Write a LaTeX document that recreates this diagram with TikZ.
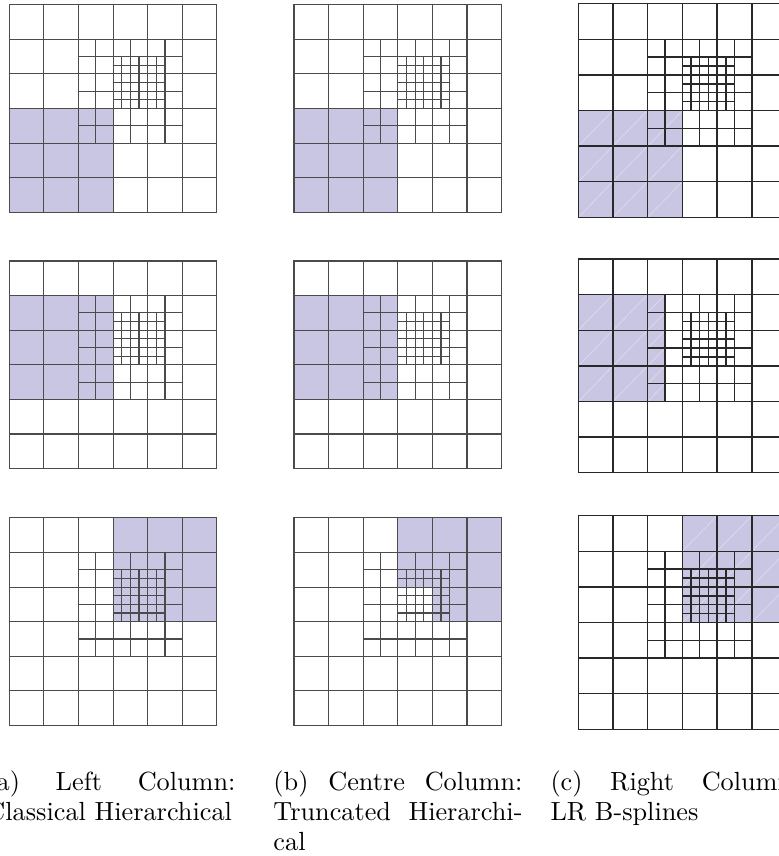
\documentclass[tikz,border=0pt]{standalone}
\usepackage{xcolor}
\usepackage{tikz}
\setlength{\parindent}{0pt}
\definecolor{meshgray}{RGB}{75,75,75}
\definecolor{meshdark}{RGB}{40,40,40}
\definecolor{suppfill}{RGB}{200,198,226}
\tikzset{
  meshline/.style={line width=0.45pt, color=meshgray, line cap=rect},
  lrline/.style={line width=0.6pt, color=meshdark, line cap=rect},
  support/.style={fill=suppfill, draw=none},
  seam/.style={white, opacity=0.35, line width=0.3pt},
  subcap/.style={inner sep=0pt, anchor=north west, text width=99.6pt,
    align=justify, font=\fontsize{10.5}{12}\selectfont}
}
% refined mesh on a 6x6 unit square
\newcommand{\hmesh}[1]{%
  \foreach \i in {0,...,6} {
    \draw[#1] (\i,0) -- (\i,6);
    \draw[#1] (0,\i) -- (6,\i);
  }
  \foreach \i in {2.5,3.5,4.5} {
    \draw[#1] (\i,2) -- (\i,5);
    \draw[#1] (2,\i) -- (5,\i);
  }
  \foreach \i in {3.25,3.5,3.75,4,4.25} {
    \draw[#1] (\i,3) -- (\i,4.5);
    \draw[#1] (3,\i) -- (4.5,\i);
  }
}

\begin{document}
\begin{tikzpicture}[x=0.4pt, y=0.4pt]
  \useasboundingbox (0,0) rectangle (779,856);
  \clip (0,0) rectangle (779,856);

  % Left column
  \begin{scope}[shift={(9.3,643.7)}, scale=34.6]
    \fill[support] (0,0) rectangle (3,3);
    \hmesh{meshline}
  \end{scope}
  \begin{scope}[shift={(9.3,387.4)}, scale=34.6]
    \fill[support] (0,2) rectangle (3,5);
    \hmesh{meshline}
  \end{scope}
  \begin{scope}[shift={(9.3,130.5)}, scale=34.6]
    \fill[support] (3,3) rectangle (6,6);
    \hmesh{meshline}
  \end{scope}

  % Centre column
  \begin{scope}[shift={(294,643.7)}, scale=34.6]
    \fill[support] (0,0) rectangle (3,3);
    \hmesh{meshline}
  \end{scope}
  \begin{scope}[shift={(294,387.4)}, scale=34.6]
    \fill[support] (0,2) rectangle (3,5);
    \hmesh{meshline}
  \end{scope}
  \begin{scope}[shift={(294,130.5)}, scale=34.6]
    \fill[support] (3,4) -- (4,4) -- (4,3) -- (6,3) -- (6,6) -- (3,6) -- cycle;
    \hmesh{meshline}
  \end{scope}

  % Right column
  \begin{scope}[shift={(578.3,638.7)}, xscale=34.7, yscale=35.6]
    \fill[support] (0,0) rectangle (3,3);
    \foreach \x in {0,1,2} \foreach \y in {0,1,2}
      \draw[seam] (\x,\y) -- ++(1,1);
    \hmesh{lrline}
  \end{scope}
  \begin{scope}[shift={(578.3,383.3)}, xscale=34.7, yscale=35.6]
    \fill[support] (0,2) rectangle (2.5,5);
    \foreach \x in {0,1} \foreach \y in {2,3,4}
      \draw[seam] (\x,\y) -- ++(1,1);
    \foreach \y in {2,2.5,...,4.5}
      \draw[seam] (2,\y) -- ++(0.5,0.5);
    \hmesh{lrline}
  \end{scope}
  \begin{scope}[shift={(578.3,126.7)}, xscale=34.7, yscale=35.6]
    \fill[support] (3,3) rectangle (6,6);
    \foreach \x in {3,4,5} \foreach \y in {3,4,5}
      \draw[seam] (\x,\y) -- ++(1,1);
    \hmesh{lrline}
  \end{scope}

  % Captions
  \node[subcap] (capa) at (-14,86) {(a) Left Column:\linebreak Classical Hierarchical};
  \node[subcap] (capb) at (273,86) {(b) Centre Column:\linebreak Truncated Hierarchi-\linebreak cal};
  \node[subcap] (capc) at (550,86) {(c) Right Column:\linebreak LR B-splines};
\end{tikzpicture}
\end{document}
